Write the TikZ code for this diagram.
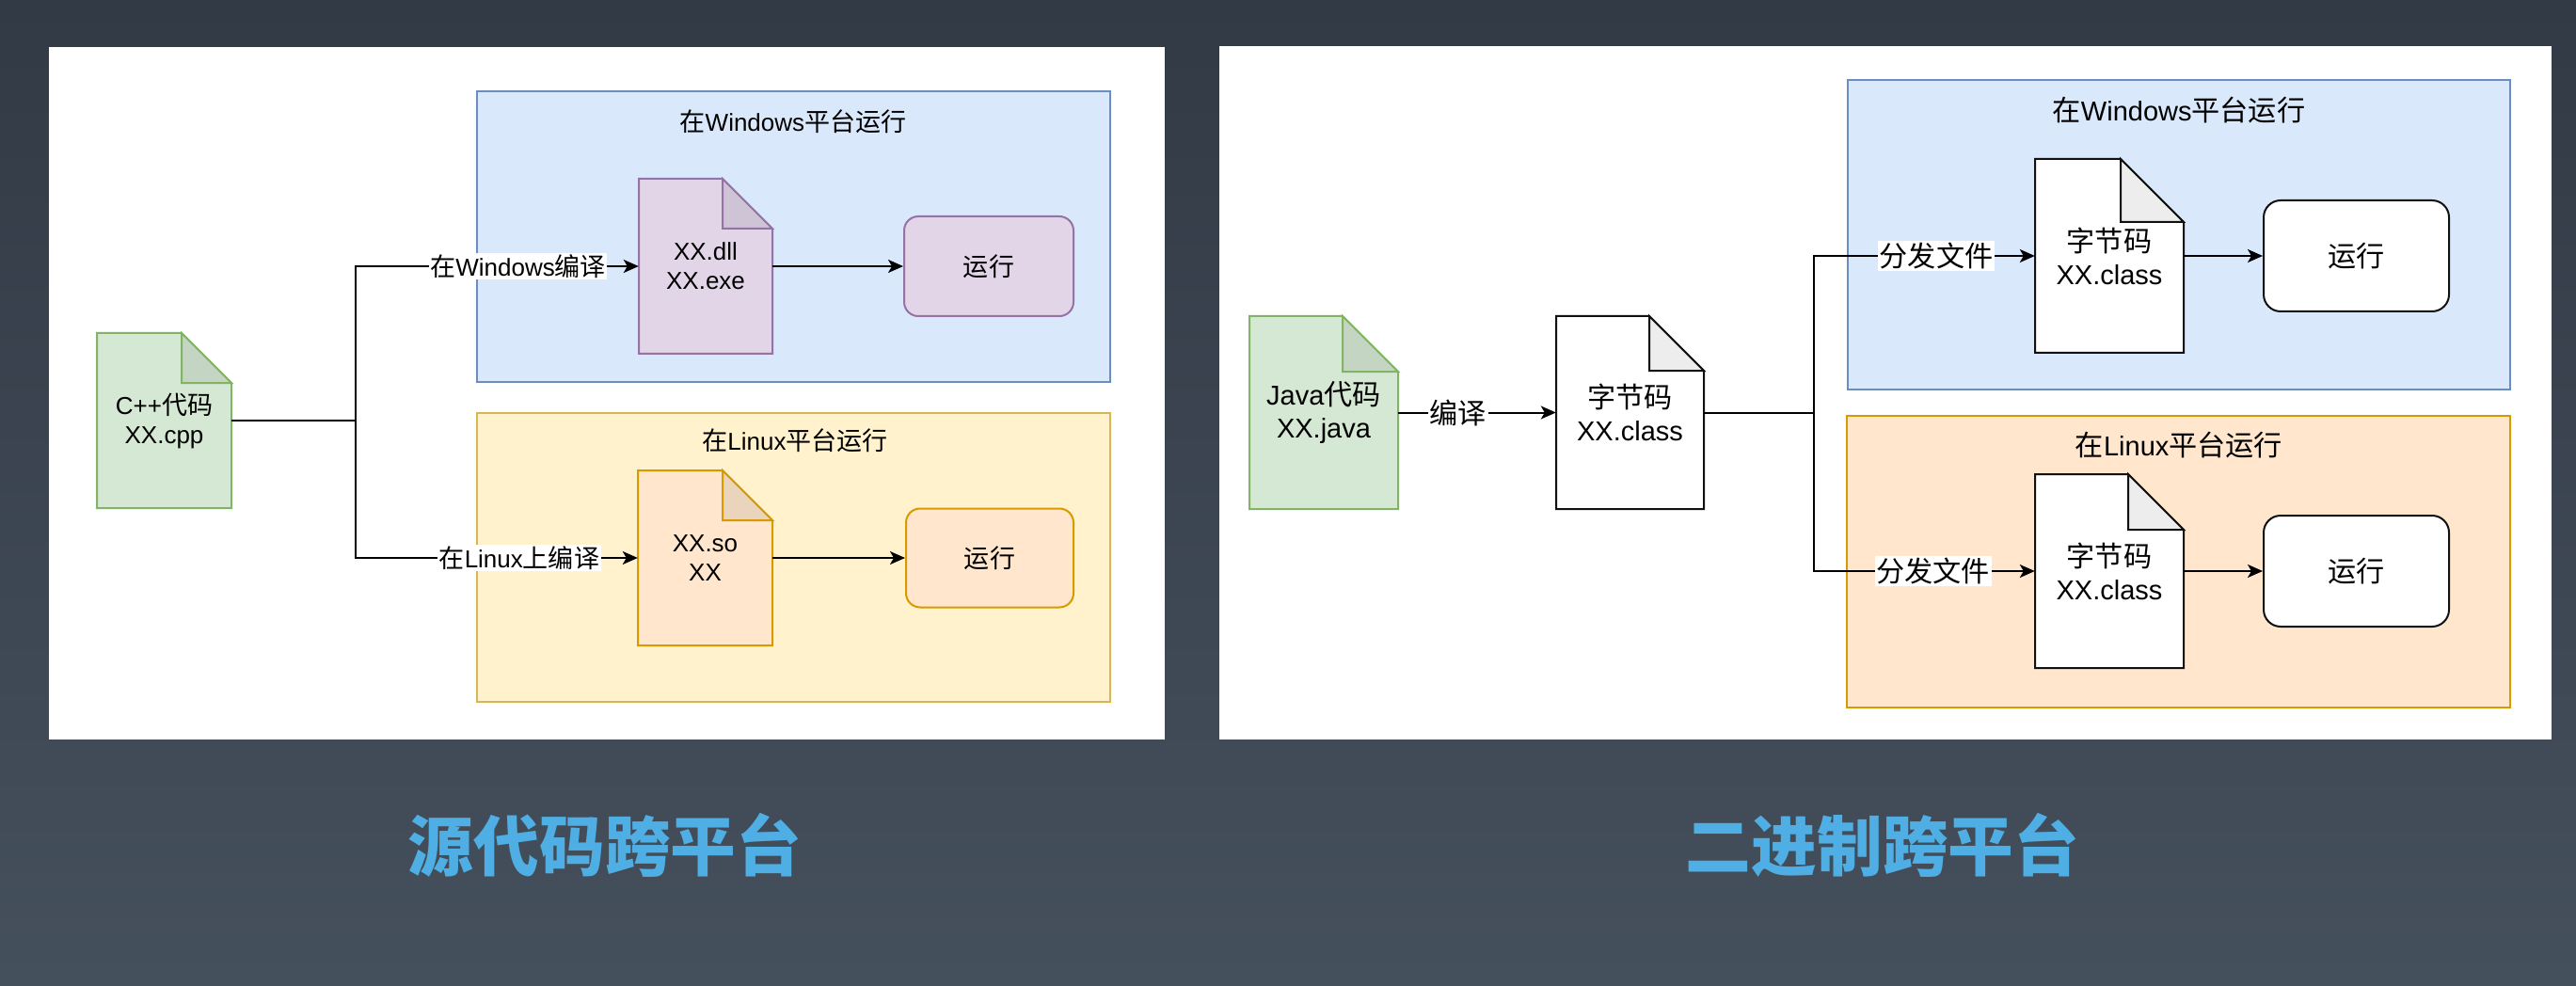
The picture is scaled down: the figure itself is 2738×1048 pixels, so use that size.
\documentclass[tikz,border=0pt]{standalone}
\usepackage{fontspec}
\setmainfont{Liberation Sans}
\newfontfamily\cjk{Noto Sans CJK SC}[Scale=1.04]
\newcommand\zh[1]{{\cjk #1}}
\usetikzlibrary{arrows.meta}
\definecolor{bgTop}{HTML}{323A45}
\definecolor{bgBot}{HTML}{45505D}
\definecolor{titleBlue}{HTML}{4FAEE3}
\definecolor{blueF}{HTML}{DAE8FC}\definecolor{blueD}{HTML}{6C8EBF}
\definecolor{yelF}{HTML}{FFF2CC}\definecolor{yelD}{HTML}{D6B656}
\definecolor{orF}{HTML}{FFE6CC}\definecolor{orD}{HTML}{D79B00}
\definecolor{grF}{HTML}{D5E8D4}\definecolor{grD}{HTML}{82B366}
\definecolor{puF}{HTML}{E1D5E7}\definecolor{puD}{HTML}{9673A6}
\definecolor{whF}{HTML}{FFFFFF}\definecolor{whD}{HTML}{111111}
\colorlet{grK}{grF!92!black}
\colorlet{puK}{puF!92!black}
\colorlet{orK}{orF!92!black}
\colorlet{whK}{whF!93!black}
% document shape: prefix, name, left, top, width, height, fold, font style, text
\newcommand\mkdoc[9]{%
  \filldraw[docline, fill=#1F, draw=#1D] (#3,#4) -- ({#3+#5-#7},#4) -- ({#3+#5},{#4+#7}) -- ({#3+#5},{#4+#6}) -- (#3,{#4+#6}) -- cycle;
  \filldraw[docline, fill=#1K, draw=#1D] ({#3+#5-#7},#4) -- ({#3+#5-#7},{#4+#7}) -- ({#3+#5},{#4+#7}) -- cycle;
  \node[docnode, #8, minimum width=#5pt, minimum height=#6pt] (#2) at ({#3+#5/2},{#4+#6/2}) {#9};
}
\begin{document}
\begin{tikzpicture}[x=1pt,y=-1pt,
  panel/.style={fill=white, draw=none, inner sep=0pt, anchor=north west},
  contbox/.style={line width=1.8pt, inner sep=0pt},
  ctitle/.style={inner sep=0pt},
  runbox/.style={line width=2pt, rounded corners=#1, inner sep=0pt},
  runbox/.default=15pt,
  docline/.style={line width=2pt, line join=miter},
  docnode/.style={draw=none, fill=none, inner sep=0pt, align=center},
  conn/.style={line width=2pt, -{Stealth[length=16pt,width=14pt,inset=4pt]}},
  wire/.style={line width=2pt},
  elabel/.style={fill=white, inner sep=1.5pt},
  fsL/.style={font=\fontsize{26}{31}\selectfont},
  fsR/.style={font=\fontsize{29}{35}\selectfont},
  bigtitle/.style={text=titleBlue, inner sep=0pt, font=\fontsize{67}{78}\selectfont\cjk\bfseries},
  blueC/.style={fill=blueF, draw=blueD},
  yelC/.style={fill=yelF, draw=yelD},
  orC/.style={fill=orF, draw=orD},
  puC/.style={fill=puF, draw=puD},
  whC/.style={fill=whF, draw=whD},
]
\useasboundingbox (0,0) rectangle (2738,1048);
\shade[top color=bgTop, bottom color=bgBot] (0,0) rectangle (2738,1048);

% ---------------- left panel ----------------
\node[panel, minimum width=1186pt, minimum height=736pt] (panelL) at (52,50) {};
\node[contbox, blueC, minimum width=673pt, minimum height=309pt] (winL) at (843.5,251.5) {};
\node[contbox, yelC, minimum width=673pt, minimum height=307pt] (linL) at (843.5,592.5) {};
\node[ctitle, fsL] (winLt) at (843,129) {\zh{在}Windows\zh{平台运行}};
\node[ctitle, fsL] (linLt) at (845,468) {\zh{在}Linux\zh{平台运行}};

\mkdoc{gr}{cpp}{103}{354}{143}{186}{53}{fsL}{C++\zh{代码}\\XX.cpp}
\mkdoc{pu}{dll}{679}{190}{142}{186}{53}{fsL}{XX.dll\\XX.exe}
\mkdoc{or}{so}{678}{500}{143}{186}{53}{fsL}{XX.so\\XX}

\node[runbox, puC, fsL, minimum width=180pt, minimum height=106pt] (runWL) at (1051,283) {\zh{运行}};
\node[runbox, orC, fsL, minimum width=178pt, minimum height=105pt] (runLL) at (1052,593) {\zh{运行}};

\coordinate (j1) at (378,447);
\draw[wire] (cpp.east) -- (j1);
\draw[conn] (j1) |- node[elabel, fsL, pos=0.787] (lblW) {\zh{在}Windows\zh{编译}} (dll.west);
\draw[conn] (j1) |- node[elabel, fsL, pos=0.79] (lblL) {\zh{在}Linux\zh{上编译}} (so.west);
\draw[conn] (dll.east) -- (runWL.west);
\draw[conn] (so.east) -- (runLL.west);

% ---------------- right panel ----------------
\node[panel, minimum width=1416pt, minimum height=737pt] (panelR) at (1296,49) {};
\node[contbox, blueC, minimum width=704pt, minimum height=329pt] (winR) at (2316,249.5) {};
\node[contbox, orC, minimum width=705pt, minimum height=310pt] (linR) at (2315.5,597) {};
\node[ctitle, fsR] (winRt) at (2316,117) {\zh{在}Windows\zh{平台运行}};
\node[ctitle, fsR] (linRt) at (2316,473) {\zh{在}Linux\zh{平台运行}};

\mkdoc{gr}{java}{1328}{336}{158}{205}{59}{fsR}{Java\zh{代码}\\XX.java}
\mkdoc{wh}{bc0}{1654}{336}{157}{205}{58}{fsR}{\zh{字节码}\\XX.class}
\mkdoc{wh}{bc1}{2163}{169}{158}{206}{67}{fsR}{\zh{字节码}\\XX.class}
\mkdoc{wh}{bc2}{2163}{504}{158}{206}{59}{fsR}{\zh{字节码}\\XX.class}

\node[runbox=18pt, whC, fsR, minimum width=197pt, minimum height=118pt] (runWR) at (2504.5,272) {\zh{运行}};
\node[runbox=18pt, whC, fsR, minimum width=197pt, minimum height=118pt] (runLR) at (2504.5,607) {\zh{运行}};

\draw[conn] (java.east) -- node[elabel, fsR, pos=0.38] (lblC) {\zh{编译}} (bc0.west);
\coordinate (j2) at (1928,438.5);
\draw[wire] (bc0.east) -- (j2);
\draw[conn] (j2) |- node[elabel, fsR, pos=0.777] (lblD1) {\zh{分发文件}} (bc1.west);
\draw[conn] (j2) |- node[elabel, fsR, pos=0.77] (lblD2) {\zh{分发文件}} (bc2.west);
\draw[conn] (bc1.east) -- (runWR.west);
\draw[conn] (bc2.east) -- (runLR.west);

% ---------------- captions ----------------
\node[bigtitle] (capL) at (643,898) {源代码跨平台};
\node[bigtitle] (capR) at (2001,898) {二进制跨平台};
\end{tikzpicture}
\end{document}
